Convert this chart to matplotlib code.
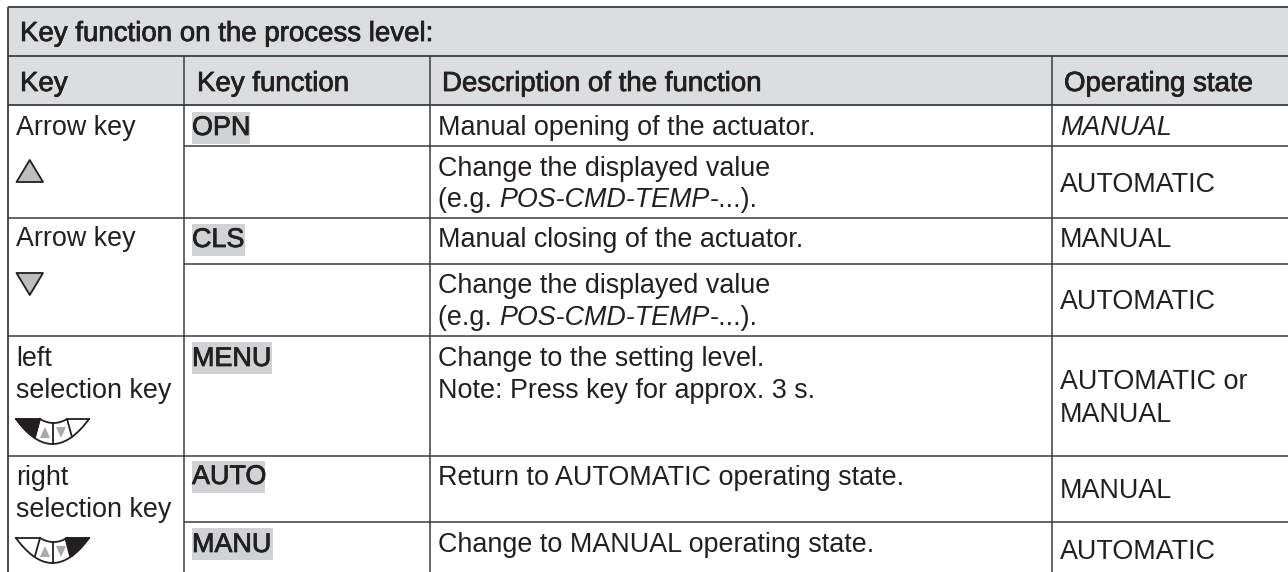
import numpy as np
import matplotlib
matplotlib.use('Agg')
import matplotlib.pyplot as plt
import matplotlib.patheffects as pe
from matplotlib.patches import Polygon, Rectangle

plt.rcParams['font.family'] = ['Liberation Sans', 'DejaVu Sans']

title = 'Key function on the process level:'
headers = ['Key', 'Key function', 'Description of the function', 'Operating state']
key_labels = [['Arrow key'], ['Arrow key'], ['left', 'selection key'], ['right', 'selection key']]
functions = ['OPN', 'CLS', 'MENU', 'AUTO', 'MANU']
descriptions = [
    ['Manual opening of the actuator.'],
    ['Change the displayed value', '(e.g. |POS-CMD-TEMP|-...).'],
    ['Manual closing of the actuator.'],
    ['Change the displayed value', '(e.g. |POS-CMD-TEMP|-...).'],
    ['Change to the setting level.', 'Note: Press key for approx. 3 s.'],
    ['Return to AUTOMATIC operating state.'],
    ['Change to MANUAL operating state.'],
]
states = [['|MANUAL|'], ['AUTOMATIC'], ['MANUAL'], ['AUTOMATIC'],
          ['AUTOMATIC or', 'MANUAL'], ['MANUAL'], ['AUTOMATIC']]

# layout in pixels
col_x = [8, 184, 430, 1052]
y_top, y_title, y_head = 7, 56, 105
y_full = [218, 336, 456]
y_part = [146, 264, 522]
key_base = [[135], [246], [366, 398], [485, 517]]
func_base = [135, 247, 366, 484, 552]
func_box = [(112, 144, 250), (224, 256, 245), (342, 374, 272), (461, 493, 265), (528, 560, 273)]
desc_base = [[135], [176, 207], [247], [293, 325], [366, 398], [485], [552]]
state_base = [[135], [192], [247], [309], [389, 422], [498], [559]]

INK = '#231f20'
LINE = '#3c3c3e'
GREY = '#dcddde'
HILITE = '#d0d2d4'
FS = 19.4
FS_HEAD = 19.9

fig = plt.figure(figsize=(12.88, 5.72), dpi=100)
ax = fig.add_axes([0, 0, 1, 1])
ax.set_xlim(0, 1288)
ax.set_ylim(572, 0)
ax.axis('off')

medium = [pe.withStroke(linewidth=0.55, foreground=INK)]


def put(x, y, s, style='normal', effects=None, size=FS):
    return ax.text(x, y, s, fontsize=size, color=INK, va='baseline', ha='left',
                   style=style, path_effects=effects, zorder=5)


def mixed(x, y, s):
    # "|" switches between upright and italic
    rend = fig.canvas.get_renderer()
    for i, part in enumerate(s.split('|')):
        if part == '':
            continue
        t = put(x, y, part, 'italic' if i % 2 else 'normal')
        x = ax.transData.inverted().transform(t.get_window_extent(rend))[1][0]


def hline(y, x0=col_x[0], x1=1288, lw=1.1, c=LINE):
    ax.plot([x0, x1], [y, y], color=c, lw=lw, solid_capstyle='butt', zorder=3)


def vline(x, y0, y1=572, lw=1.1, c=LINE):
    ax.plot([x, x], [y0, y1], color=c, lw=lw, solid_capstyle='butt', zorder=3)


def arrow(x0, x1, y_base, y_tip):
    ax.add_patch(Polygon([(x0, y_base), (x1, y_base), ((x0 + x1) / 2, y_tip)], closed=True,
                         fc='#bcbec0', ec=INK, lw=1.3, joinstyle='round', zorder=4))


def selection_key(y, black):
    # fan of four keys, top edge at y, black = 'left' or 'right'
    def outer(t):
        return 16 + 73 * t, y + 2 * t * (1 - t) * 50

    def inner(t):
        return 40 + 27 * t, y + 2 * t * (1 - t) * 8

    ts = np.linspace(0, 1, 40)
    ox, oy = outer(ts)
    ix, iy = inner(ts)
    lw = 1.3
    ax.plot(ox, oy, color=INK, lw=lw, zorder=4)
    ax.plot(ix, iy, color=INK, lw=lw, zorder=4)
    ax.plot([16, 40], [y, y], color=INK, lw=lw, zorder=4)
    ax.plot([67, 89], [y, y], color=INK, lw=lw, zorder=4)
    ax.plot([53.5, 53.5], [y + 4, y + 25], color=INK, lw=lw, zorder=4)
    ax.plot([40, 35], [y, y + 18], color=INK, lw=lw, zorder=4)
    ax.plot([67, 72], [y, y + 18], color=INK, lw=lw, zorder=4)
    t_side = np.linspace(0, 0.26, 12)
    sx, sy = outer(t_side)
    left = list(zip(sx, sy)) + [(40, y)]
    right = [(105 - a, b) for a, b in left]
    ax.add_patch(Polygon(left if black == 'left' else right, closed=True, fc=INK, ec=INK, lw=0.8, zorder=4))
    ax.add_patch(Polygon([(40, y + 19), (50, y + 19), (45, y + 8)], closed=True, fc='#a7a9ac', ec='none', zorder=4))
    ax.add_patch(Polygon([(56, y + 8), (66, y + 8), (61, y + 19)], closed=True, fc='#a7a9ac', ec='none', zorder=4))


# header bands
ax.add_patch(Rectangle((col_x[0], y_top), 1288 - col_x[0], y_head - y_top, fc=GREY, ec='none', zorder=1))

# function highlights
for (b0, b1, x1) in func_box:
    ax.add_patch(Rectangle((192, b0), x1 - 192, b1 - b0, fc=HILITE, ec='none', zorder=2))

# grid
hline(y_top, lw=1.3)
hline(y_title, lw=1.3)
hline(y_head, lw=1.3)
for y in y_full:
    hline(y)
for y in y_part:
    hline(y, x0=col_x[1])
vline(col_x[0], y_top, lw=1.3)
for x in col_x[1:]:
    vline(x, y_title)

# text
put(20, 41, title, effects=medium, size=FS_HEAD)
for x, h in zip([20, 197, 442, 1064], headers):
    put(x, 91, h, effects=medium, size=FS_HEAD)
for lines, bases in zip(key_labels, key_base):
    for s, y in zip(lines, bases):
        put(16, y, s)
for f, y in zip(functions, func_base):
    put(192, y, f, effects=medium)
for lines, bases in zip(descriptions, desc_base):
    for s, y in zip(lines, bases):
        mixed(438, y, s)
for lines, bases in zip(states, state_base):
    for s, y in zip(lines, bases):
        mixed(1060, y, s)

# key symbols
arrow(16.5, 43, 182, 160)
arrow(16.5, 43, 273, 295)
selection_key(419, 'left')
selection_key(538, 'right')

fig.savefig('out.png', dpi=100)
